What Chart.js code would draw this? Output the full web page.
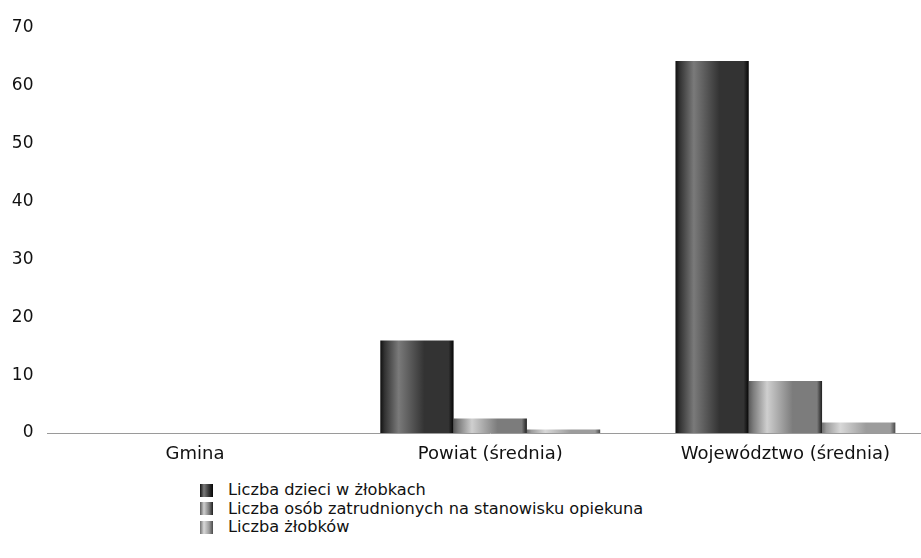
<!DOCTYPE html>
<html>
<head>
<meta charset="utf-8">
<script src="https://cdn.jsdelivr.net/npm/chart.js@4/dist/chart.umd.min.js"></script>
<style>
  html, body { margin: 0; padding: 0; background: #fff; overflow: hidden; }
  #wrap { position: relative; width: 921px; height: 558px; overflow: hidden; }
  #chartBox { position: absolute; left: 0; top: 0; width: 933px; height: 466px; }
  #legend { position: absolute; left: 200px; top: 481px; font-family: "DejaVu Sans", sans-serif; font-size: 16.2px; color: #111; }
  #legend .row { display: flex; align-items: center; height: 18.5px; line-height: 18.5px; }
  #legend .box { width: 13px; height: 13px; margin-right: 15px; }
</style>
</head>
<body>
<div id="wrap">
  <div id="chartBox"><canvas id="c"></canvas></div>
  <div id="legend"></div>
</div>
<script>
const categories = ["Gmina", "Powiat (średnia)", "Województwo (średnia)"];
const seriesNames = [
  "Liczba dzieci w żłobkach",
  "Liczba osób zatrudnionych na stanowisku opiekuna",
  "Liczba żłobków"
];
const dzieci = [0, 16.0, 64.3];
const opiekunowie = [0, 2.5, 9.0];
const zlobki = [0, 0.6, 1.8];
const yTicks = [0, 10, 20, 30, 40, 50, 60, 70];

const seriesValues = [dzieci, opiekunowie, zlobki];
// gradient stops per series: [left edge, highlight, body, right edge]
const shades = [
  ["#101010", "#7a7a7a", "#333333", "#050505"],
  ["#5a5a5a", "#cfcfcf", "#7c7c7c", "#1e1e1e"],
  ["#707070", "#d8d8d8", "#9c9c9c", "#4a4a4a"]
];
const solid = ["#2e2e2e", "#8a8a8a", "#a8a8a8"];
const CAT_PCT = 0.745;

function barFill(ctx) {
  const chart = ctx.chart;
  const ds = ctx.datasetIndex;
  if (!chart.chartArea || ctx.dataIndex === undefined) return solid[ds];
  const xs = chart.scales.x;
  if (!xs) return solid[ds];
  const catW = xs.width / categories.length;
  const groupW = catW * CAT_PCT;
  const barW = groupW / seriesValues.length;
  const center = xs.getPixelForValue(ctx.dataIndex);
  const left = center - groupW / 2 + ds * barW;
  const g = chart.ctx.createLinearGradient(left, 0, left + barW, 0);
  const s = shades[ds];
  g.addColorStop(0, s[0]);
  g.addColorStop(0.06, s[2]);
  g.addColorStop(0.25, s[1]);
  g.addColorStop(0.6, s[2]);
  g.addColorStop(0.93, s[2]);
  g.addColorStop(1, s[3]);
  return g;
}

const datasets = seriesNames.map((name, i) => ({
  label: name,
  data: seriesValues[i],
  backgroundColor: barFill,
  borderWidth: 0,
  barPercentage: 1.0,
  categoryPercentage: CAT_PCT
}));

// HTML legend (vertical list)
const leg = document.getElementById('legend');
seriesNames.forEach((name, i) => {
  const row = document.createElement('div');
  row.className = 'row';
  const b = document.createElement('span');
  b.className = 'box';
  b.style.background = `linear-gradient(90deg, ${shades[i][0]}, ${shades[i][1]} 30%, ${shades[i][2]} 70%, ${shades[i][3]})`;
  const t = document.createElement('span');
  t.textContent = name;
  row.appendChild(b); row.appendChild(t);
  leg.appendChild(row);
});

new Chart(document.getElementById('c'), {
  type: 'bar',
  data: { labels: categories, datasets },
  options: {
    responsive: true,
    maintainAspectRatio: false,
    animation: false,
    layout: { padding: { top: 28, right: 0, left: 11, bottom: 0 } },
    plugins: { legend: { display: false }, tooltip: { enabled: false } },
    scales: {
      x: {
        afterFit: (s) => { s.height = 33; },
        grid: { display: false, drawTicks: false },
        border: { display: true, color: '#9a9a9a', width: 1, dash: [2, 2] },
        ticks: { color: '#111', font: { family: 'DejaVu Sans', size: 18 }, padding: 11 }
      },
      y: {
        min: 0, max: 70,
        afterFit: (s) => { s.width = 36.5; },
        afterBuildTicks: (s) => { s.ticks = yTicks.map(v => ({ value: v })); },
        grid: { display: false, drawTicks: false },
        border: { display: false },
        ticks: { color: '#111', font: { family: 'DejaVu Sans', size: 17 }, padding: 14 }
      }
    }
  }
});
</script>
</body>
</html>
